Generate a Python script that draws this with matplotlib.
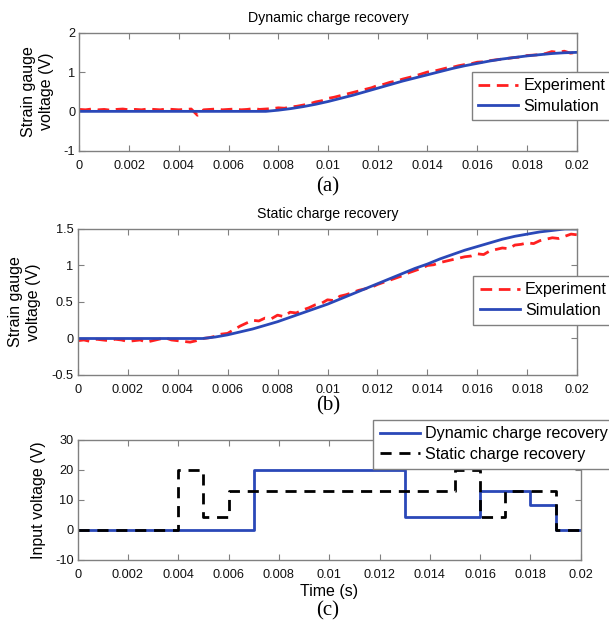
import numpy as np
import matplotlib
matplotlib.use("Agg")
import matplotlib.pyplot as plt
from matplotlib.ticker import FormatStrFormatter

# ---------------- data ----------------
t_sim = np.arange(41) * 0.0005
t_exp = np.arange(81) * 0.00025

sim_dynamic = [0, 0, 0, 0, 0, 0, 0, 0, 0, 0, 0, 0, 0, 0, 0, 0,
               0.03, 0.07, 0.12, 0.18, 0.25, 0.33, 0.41, 0.50, 0.59, 0.68,
               0.77, 0.85, 0.93, 1.01, 1.09, 1.16, 1.22, 1.28, 1.33, 1.37,
               1.41, 1.44, 1.47, 1.49, 1.50]

exp_dynamic = [0.05, 0.04, 0.06, 0.04, 0.05, 0.03, 0.05, 0.06, 0.04, 0.05,
               0.04, 0.06, 0.05, 0.04, 0.06, 0.05, 0.04, 0.05, 0.06, -0.10,
               0.04, 0.05, 0.06, 0.04, 0.05, 0.06, 0.04, 0.05, 0.07, 0.05,
               0.06, 0.07,
               0.09, 0.08, 0.11, 0.13, 0.16, 0.19, 0.24, 0.27, 0.33, 0.36,
               0.40, 0.44, 0.48, 0.52, 0.56, 0.60, 0.66, 0.69, 0.74, 0.77,
               0.82, 0.86, 0.90, 0.95, 1.00, 1.02, 1.06, 1.10, 1.12, 1.16,
               1.19, 1.21, 1.25, 1.26, 1.29, 1.31, 1.33, 1.35, 1.37, 1.38,
               1.42, 1.43, 1.44, 1.47, 1.52, 1.50, 1.53, 1.48, 1.50]

sim_static = [0, 0, 0, 0, 0, 0, 0, 0, 0, 0, 0,
              0.02, 0.05, 0.09, 0.13, 0.18, 0.23, 0.29, 0.35, 0.41, 0.47,
              0.54, 0.61, 0.68, 0.75, 0.82, 0.89, 0.96, 1.02, 1.09, 1.15,
              1.21, 1.26, 1.31, 1.36, 1.40, 1.43, 1.46, 1.48, 1.50, 1.50]

exp_static = [-0.03, -0.02, -0.04, -0.01, -0.02, -0.03, -0.01, -0.02, -0.04, -0.03,
              -0.02, -0.05, -0.03, -0.01, 0.01, -0.02, -0.03, -0.04, -0.05, -0.03,
              0.00, 0.01, 0.03, 0.06, 0.07, 0.12, 0.17, 0.21, 0.25, 0.24,
              0.28, 0.27, 0.32, 0.30, 0.36, 0.35, 0.39, 0.42, 0.46, 0.48,
              0.53, 0.52, 0.58, 0.60, 0.63, 0.66, 0.68, 0.70, 0.74, 0.77,
              0.80, 0.83, 0.86, 0.90, 0.93, 0.96, 1.00, 1.01, 1.04, 1.06,
              1.08, 1.10, 1.12, 1.13, 1.16, 1.15, 1.20, 1.22, 1.24, 1.23,
              1.28, 1.29, 1.31, 1.30, 1.34, 1.36, 1.38, 1.37, 1.40, 1.43, 1.42]

dyn_t = [0, 0.007, 0.013, 0.016, 0.018, 0.019, 0.02]
dyn_v = [0, 20, 4.5, 13, 8.5, 0, 0]
stat_t = [0, 0.004, 0.005, 0.006, 0.015, 0.016, 0.017, 0.019, 0.02]
stat_v = [0, 20, 4.5, 13, 20, 4.5, 13, 0, 0]

xticks = np.arange(11) * 0.002
yticks_a = [-1, 0, 1, 2]
yticks_b = [-0.5, 0, 0.5, 1, 1.5]
yticks_c = [-10, 0, 10, 20, 30]

# ---------------- style ----------------
plt.rcParams['font.family'] = ['Liberation Sans', 'DejaVu Sans']
W, H = 609, 626
fig = plt.figure(figsize=(W / 100, H / 100), dpi=100)

RED = '#ff2020'
BLUE = '#2a48b8'
SPINE = '#808080'


def px_axes(left, top, right, bottom):
    return fig.add_axes([left / W, 1 - bottom / H, (right - left) / W, (bottom - top) / H])


def style(ax, yticks, ylim):
    ax.set_xlim(0, 0.02)
    ax.set_ylim(*ylim)
    ax.set_xticks(xticks)
    ax.set_yticks(yticks)
    ax.xaxis.set_major_formatter(FormatStrFormatter('%g'))
    ax.yaxis.set_major_formatter(FormatStrFormatter('%g'))
    ax.tick_params(direction='in', top=True, right=True, length=4, width=0.8,
                   color=SPINE, labelsize=9.2, labelcolor='#111111')
    ax.tick_params(axis='x', pad=6.5)
    ax.tick_params(axis='y', pad=3)
    for s in ax.spines.values():
        s.set_color(SPINE)
        s.set_linewidth(1.0)


serif = ['Liberation Serif', 'DejaVu Serif']
leg_kw = dict(bbox_transform=fig.transFigure, borderaxespad=0, fontsize=11.6,
              handlelength=2.5, handletextpad=0.3, labelspacing=0.35,
              fancybox=False, edgecolor=SPINE, framealpha=1, borderpad=0.4,
              loc='upper left')

# (a)
ax1 = px_axes(79.3, 32.7, 576.7, 150.7)
ax1.plot(t_exp, exp_dynamic, '--', color=RED, lw=2.0, dashes=(4.2, 2.4), label='Experiment')
ax1.plot(t_sim, sim_dynamic, '-', color=BLUE, lw=2.0, label='Simulation')
style(ax1, yticks_a, (-1, 2))
ax1.set_title('Dynamic charge recovery', fontsize=10.2, pad=8)
ax1.set_ylabel('Strain gauge\nvoltage (V)', fontsize=11.5, linespacing=1.25)
ax1.yaxis.set_label_coords((54 - 79.3) / 497.4, 0.5)
ax1.legend(bbox_to_anchor=(471.7 / W, 1 - 71.7 / H), **leg_kw)
fig.text(328 / W, 1 - 187 / H, '(a)', family=serif, fontsize=15, ha='center', va='center')

# (b)
ax2 = px_axes(77.7, 229, 577.3, 375)
ax2.plot(t_exp, exp_static, '--', color=RED, lw=2.0, dashes=(4.2, 2.4), label='Experiment')
ax2.plot(t_sim, sim_static, '-', color=BLUE, lw=2.0, label='Simulation')
style(ax2, yticks_b, (-0.5, 1.5))
ax2.set_title('Static charge recovery', fontsize=10.2, pad=8)
ax2.set_ylabel('Strain gauge\nvoltage (V)', fontsize=11.5, linespacing=1.25)
ax2.yaxis.set_label_coords((41 - 77.7) / 499.6, 0.5)
ax2.legend(bbox_to_anchor=(473.3 / W, 1 - 276 / H), **leg_kw)
fig.text(328 / W, 1 - 406 / H, '(b)', family=serif, fontsize=15, ha='center', va='center')

# (c)
ax3 = px_axes(77.7, 440, 580.7, 560)
ax3.plot(dyn_t, dyn_v, '-', color=BLUE, lw=2.0, drawstyle='steps-post',
         label='Dynamic charge recovery')
ax3.plot(stat_t, stat_v, '--', color='black', lw=2.0, dashes=(4.0, 2.8),
         drawstyle='steps-post', label='Static charge recovery')
style(ax3, yticks_c, (-10, 30))
ax3.set_ylabel('Input voltage (V)', fontsize=11.5)
ax3.yaxis.set_label_coords((46 - 77.7) / 503, 0.5)
ax3.set_xlabel('Time (s)', fontsize=11.5, labelpad=2)
ax3.legend(bbox_to_anchor=(373.3 / W, 1 - 420 / H), **leg_kw)
fig.text(328 / W, 1 - 611 / H, '(c)', family=serif, fontsize=15, ha='center', va='center')

fig.savefig('out.png', dpi=100)
